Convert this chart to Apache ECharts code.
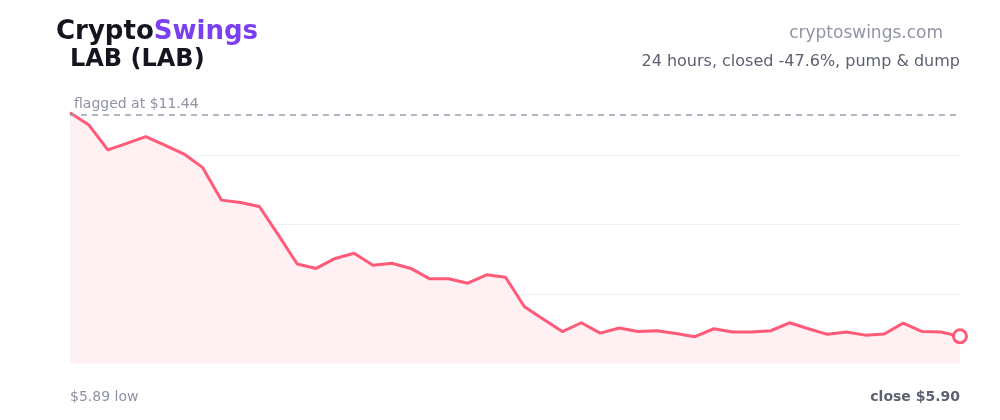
<!DOCTYPE html>
<html><head><meta charset="utf-8">
<script src="https://cdn.jsdelivr.net/npm/echarts@6/dist/echarts.min.js"></script>
<style>html,body{margin:0;padding:0;background:#fff}#c{width:1000px;height:420px}</style>
</head><body><div id="c"></div>
<script>
const hours = ["0:00","0:30","1:00","1:30","2:00","2:30","3:00","3:30","4:00","4:30","5:00","5:30","6:00","6:30","7:00","7:30","8:00","8:30","9:00","9:30","10:00","10:30","11:00","11:30","12:00","12:30","13:00","13:30","14:00","14:30","15:00","15:30","16:00","16:30","17:00","17:30","18:00","18:30","19:00","19:30","20:00","20:30","21:00","21:30","22:00","22:30","23:00","23:30"];
const prices = [11.50,11.19,10.57,10.73,10.90,10.69,10.47,10.13,9.31,9.25,9.15,8.44,7.71,7.60,7.85,7.98,7.68,7.73,7.60,7.34,7.34,7.23,7.44,7.38,6.64,6.33,6.02,6.24,5.98,6.11,6.02,6.04,5.97,5.89,6.09,6.01,6.01,6.04,6.24,6.09,5.95,6.01,5.93,5.96,6.23,6.02,6.01,5.90];
const flagged = 11.44;
const yMin = 5.22, yMax = 12.18, yStep = 1.74;
const symbol = "LAB (LAB)";
const subtitle = "24 hours, closed -47.6%, pump & dump";
const lowLabel = "$5.89 low";
const closeLabel = "close $5.90";

const chart = echarts.init(document.getElementById('c'), null, {renderer:'canvas'});
const F = "DejaVu Sans";
const lastIdx = prices.length - 1;
chart.setOption({
  animation:false,
  backgroundColor:'#ffffff',
  grid:{left:70,right:40,top:85.5,bottom:56.5},
  xAxis:{type:'category',data:hours,boundaryGap:false,show:false},
  yAxis:{type:'value',min:yMin,max:yMax,interval:yStep,
    axisLine:{show:false},axisTick:{show:false},axisLabel:{show:false},
    splitLine:{show:true,lineStyle:{color:['rgba(0,0,0,0)','#efeff3','#efeff3','#efeff3','rgba(0,0,0,0)'],width:1}}},
  series:[{
    type:'line',data:prices,
    showSymbol:false,
    lineStyle:{color:'#ff5a78',width:3},
    areaStyle:{color:'#fff0f3',opacity:1},
    markLine:{symbol:'none',silent:true,label:{show:false},
      lineStyle:{color:'#9b9db0',type:[6,5],width:1.5},
      data:[{yAxis:flagged}]},
    z:3
  },{
    type:'scatter',data:prices.map((v,i)=>[i,v]).slice(lastIdx),
    symbol:'circle',symbolSize:13,clip:false,
    itemStyle:{color:'#ffffff',borderColor:'#ff5a78',borderWidth:3,opacity:1},
    z:5
  }],
  graphic:[
    {type:'text',x:56,y:32,style:{text:'{a|Crypto}{b|Swings}',textVerticalAlign:'middle',rich:{
      a:{fontFamily:F,fontWeight:'bold',fontSize:26,fill:'#15151f'},
      b:{fontFamily:F,fontWeight:'bold',fontSize:26,fill:'#7b3ff2'}}}},
    {type:'text',x:70,y:60,style:{text:symbol,fontFamily:F,fontWeight:'bold',fontSize:24,fill:'#15151f',textVerticalAlign:'middle'}},
    {type:'text',x:943,y:34,style:{text:'cryptoswings.com',fontFamily:F,fontSize:17,fill:'#9094a6',textAlign:'right',textVerticalAlign:'middle'}},
    {type:'text',x:960,y:62,style:{text:subtitle,fontFamily:F,fontSize:16,fill:'#5d6070',textAlign:'right',textVerticalAlign:'middle'}},
    {type:'text',x:74,y:104,style:{text:'flagged at $' + flagged.toFixed(2),fontFamily:F,fontSize:14,fill:'#8e92a4',textVerticalAlign:'middle'}},
    {type:'text',x:70,y:397,style:{text:lowLabel,fontFamily:F,fontSize:14,fill:'#8e92a4',textVerticalAlign:'middle'}},
    {type:'text',x:960,y:397,style:{text:closeLabel,fontFamily:F,fontWeight:'bold',fontSize:14,fill:'#5d6272',textAlign:'right',textVerticalAlign:'middle'}}
  ]
});
</script></body></html>
